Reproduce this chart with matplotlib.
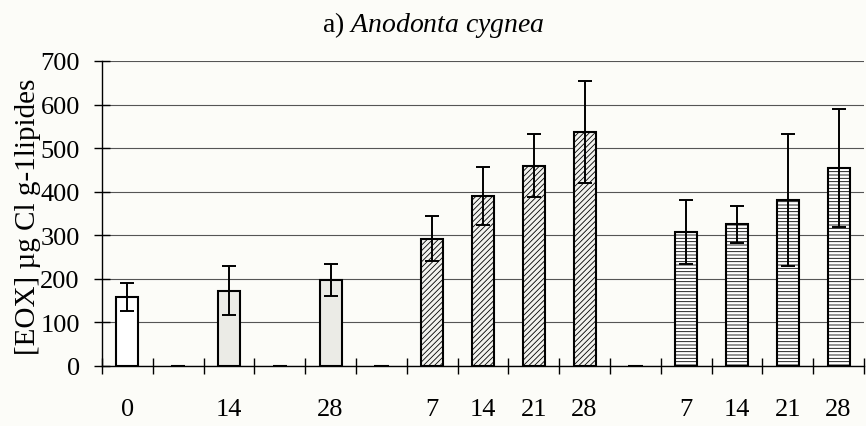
import matplotlib
matplotlib.use("Agg")
import matplotlib.pyplot as plt
import numpy as np

plt.rcParams['font.family'] = ['Liberation Serif', 'DejaVu Serif']
plt.rcParams['mathtext.fontset'] = 'custom'
plt.rcParams['mathtext.rm'] = 'Liberation Serif'
plt.rcParams['mathtext.it'] = 'Liberation Serif:italic'
plt.rcParams['hatch.linewidth'] = 0.6

# Exposure days per slot (empty string = spacer slot with a zero mark)
labels = ['0', '', '14', '', '28', '', '7', '14', '21', '28', '', '7', '14', '21', '28']
means = [158, 0, 173, 0, 197, 0, 292, 390, 460, 537, 0, 308, 325, 381, 454]
errors = [32, 0, 57, 0, 36, 0, 52, 67, 72, 118, 0, 74, 43, 152, 135]
groups = ['ctrl', 'gap', 'dot', 'gap', 'dot', 'gap',
          'diag', 'diag', 'diag', 'diag', 'gap',
          'horiz', 'horiz', 'horiz', 'horiz']

styles = {
    'ctrl': dict(facecolor='white', hatch=None),
    'dot': dict(facecolor='#ebebe6', hatch=None),
    'diag': dict(facecolor='#f2f2ee', hatch='//////'),
    'horiz': dict(facecolor='white', hatch='-----'),
    'gap': dict(facecolor='none', hatch=None),
}

fig = plt.figure(figsize=(8.66, 4.27), dpi=100, facecolor='#fcfcf8')
ax = fig.add_axes([102 / 866, 60 / 427, 762 / 866, 305 / 427])
ax.set_facecolor('#fcfcf8')

x = np.arange(len(labels))
for xi, m, e, g in zip(x, means, errors, groups):
    st = styles[g]
    w = 0.28 if g == 'gap' else 0.43
    ax.bar(xi, m, width=w, facecolor=st['facecolor'], edgecolor='black',
           linewidth=1.5, hatch=st['hatch'], zorder=3)
    if e > 0:
        ax.errorbar(xi, m, yerr=e, fmt='none', ecolor='black',
                    elinewidth=1.4, capsize=5, capthick=1.4, zorder=4)

ax.set_xlim(-0.5, len(labels) - 0.5)
ax.set_ylim(0, 700)
ax.set_yticks(np.arange(0, 701, 100))
ax.yaxis.grid(True, color='#555555', linewidth=0.8, zorder=0)
ax.set_axisbelow(True)

ax.set_xticks(x)
ax.set_xticklabels(labels)
ax.set_xticks(np.arange(-0.5, len(labels) + 0.5, 1), minor=True)
ax.tick_params(axis='x', which='major', length=0, pad=23, labelsize=19)
ax.tick_params(axis='x', which='minor', direction='inout', length=12, width=1)
ax.tick_params(axis='y', direction='inout', length=12, width=1, pad=10,
               labelsize=19)

for s in ['top', 'right']:
    ax.spines[s].set_visible(False)
ax.spines['left'].set_linewidth(1)
ax.spines['bottom'].set_linewidth(1)

fig.text(28 / 866, 1 - 217 / 427, '[EOX] µg Cl g-1lipides', rotation=90,
         ha='center', va='center', fontsize=21)

fig.text(433 / 866, 1 - 25 / 427, r'a) $\mathit{Anodonta\ cygnea}$',
         ha='center', va='center', fontsize=20)

fig.savefig('out.png', dpi=100, facecolor=fig.get_facecolor())
